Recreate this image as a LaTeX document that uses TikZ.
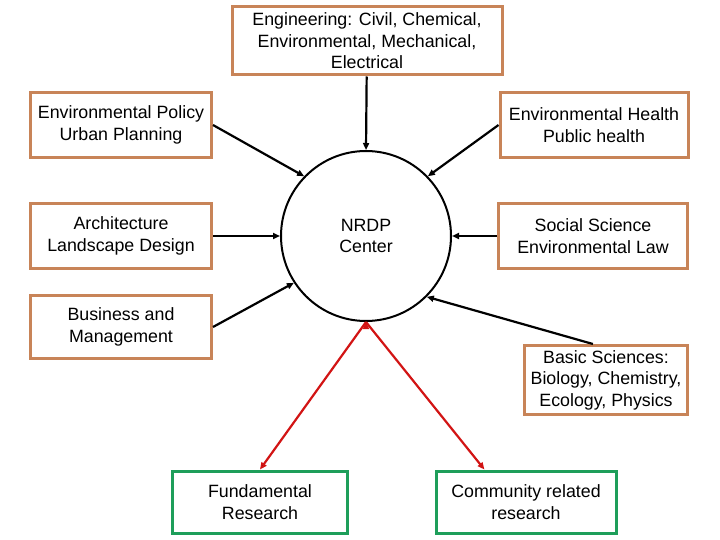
\documentclass[tikz,border=0pt]{standalone}
\usepackage{fontspec}
\setmainfont{Liberation Sans}
\usetikzlibrary{arrows.meta,shapes.geometric}
\definecolor{boxbrown}{RGB}{200,132,88}
\definecolor{boxgreen}{RGB}{30,158,90}
\definecolor{arrred}{RGB}{210,20,20}

\begin{document}
\begin{tikzpicture}[x=1pt,y=-1pt,
  field/.style={draw=boxbrown,line width=3pt,align=center,inner sep=2pt,
    font=\fontsize{17.8}{21.5}\selectfont},
  outcome/.style={field,draw=boxgreen},
  hub/.style={circle,draw,line width=2pt,minimum size=170pt,align=center,
    font=\fontsize{17.8}{21.5}\selectfont},
  feed/.style={-{Triangle[length=7pt,width=6pt]},line width=2.2pt},
  result/.style={feed,draw=arrred}]
\useasboundingbox (0,0) rectangle (720,540);
\node[hub] (C) at (366,236) {NRDP\\Center};
\node[field,minimum width=270pt,minimum height=68pt] (E) at (367,41)
  {Engineering: Civil, Chemical,\\Environmental, Mechanical,\\Electrical};
\node[field,minimum width=181pt,minimum height=65pt] (P) at (121,125)
  {Environmental Policy\\Urban Planning};
\node[field,minimum width=188pt,minimum height=65pt] (H) at (594,125)
  {Environmental Health\\Public health};
\node[field,minimum width=181pt,minimum height=64pt] (A) at (121,236)
  {Architecture\\Landscape Design};
\node[field,minimum width=189pt,minimum height=64pt] (S) at (593,236)
  {Social Science\\Environmental Law};
\node[field,minimum width=181pt,minimum height=63pt] (B) at (121,327)
  {Business and\\Management};
\node[field,minimum width=163pt,minimum height=69pt] (Sci) at (606,380)
  {Basic Sciences:\\Biology, Chemistry,\\Ecology, Physics};
\node[outcome,minimum width=175pt,minimum height=62pt] (F) at (260,502)
  {Fundamental\\Research};
\node[outcome,minimum width=180pt,minimum height=62pt] (R) at (526,502)
  {Community related\\research};
\path[feed]
(E) edge (C.north)
(P.east) edge (C.136)
(H.west) edge (C.44)
(A.east) edge (C.west)
(S.west) edge (C.east)
(B.east) edge (C.213)
(Sci.110) edge (C.315);
\path[result]
(C.south) edge (F.north)
(C.south) edge (R.142);
\end{tikzpicture}
\end{document}
